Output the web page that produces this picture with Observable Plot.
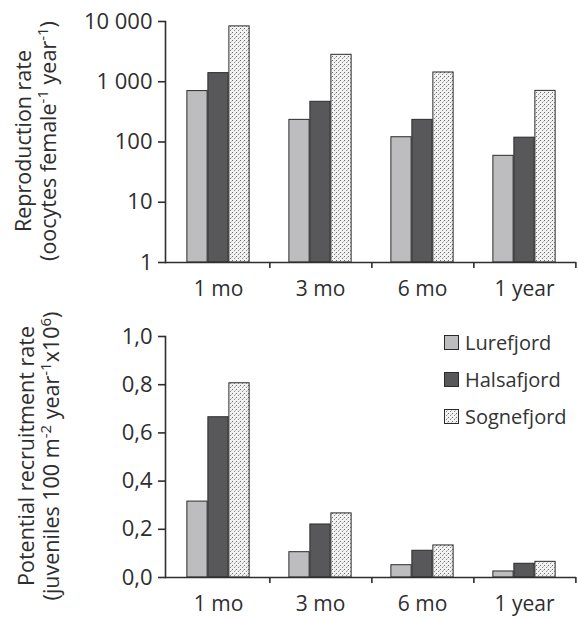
<!DOCTYPE html>
<html>
<head>
<meta charset="utf-8">
<script src="https://cdn.jsdelivr.net/npm/d3@7"></script>
<script src="https://cdn.jsdelivr.net/npm/@observablehq/plot@0.6"></script>
<style>
  body { margin: 0; background: #fff; font-family: "Open Sans", sans-serif; }
  #wrap { position: relative; width: 578px; height: 619px; }
  #wrap svg { display: block; }
  #legend { position: absolute; left: 444px; top: 324px; font-size: 20px; color: #333; }
  #legend .item { display: flex; align-items: center; height: 37px; }
  #legend svg { margin-right: 6px; }
</style>
</head>
<body>
<div id="wrap"></div>
<script>
// ---- data ----
const periods = ["1 mo", "3 mo", "6 mo", "1 year"];
const fjords = ["Lurefjord", "Halsafjord", "Sognefjord"];
const reproLurefjord  = [700, 233, 120, 59];
const reproHalsafjord = [1390, 465, 233, 118];
const reproSognefjord = [8300, 2800, 1425, 706];
const recruitLurefjord  = [0.315, 0.105, 0.051, 0.025];
const recruitHalsafjord = [0.665, 0.22, 0.111, 0.057];
const recruitSognefjord = [0.806, 0.266, 0.133, 0.065];
const reproTicks = [1, 10, 100, 1000, 10000];
const recruitTicks = [0, 0.2, 0.4, 0.6, 0.8, 1.0];

const fills = {Lurefjord: "#bdbdbf", Halsafjord: "#58585a", Sognefjord: "url(#dots)"};

function rows(series) {
  const out = [];
  fjords.forEach((f, j) => periods.forEach((p, i) => out.push({period: p, fjord: f, value: series[j][i]})));
  return out;
}
const reproRows = rows([reproLurefjord, reproHalsafjord, reproSognefjord]);
const recruitRows = rows([recruitLurefjord, recruitHalsafjord, recruitSognefjord]);

const W = 578, ML = 165, MR = 2;
const bw = (W - ML - MR) / periods.length;
const barW = 21;
const off = (bw - barW * fjords.length) / 2;
const ink = "#2e2e2e";

function addDefs(svg) {
  const defs = d3.select(svg).insert("defs", ":first-child");
  const pat = defs.append("pattern").attr("id", "dots").attr("patternUnits", "userSpaceOnUse")
    .attr("width", 4).attr("height", 4);
  pat.append("rect").attr("width", 4).attr("height", 4).attr("fill", "#f2f2f2");
  pat.append("rect").attr("x", 0).attr("y", 0).attr("width", 1).attr("height", 1).attr("fill", "#6a6a6a");
  pat.append("rect").attr("x", 2).attr("y", 2).attr("width", 1).attr("height", 1).attr("fill", "#8a8a8a");
  pat.append("rect").attr("x", 3).attr("y", 1).attr("width", 1).attr("height", 1).attr("fill", "#c4c4c4");
}

function addTitle(svg, cy, lines) {
  const g = d3.select(svg).append("g").attr("transform", "rotate(-90)")
    .attr("font-family", "Open Sans, sans-serif").attr("font-size", 21.5).attr("fill", ink);
  lines.forEach(({x, parts}) => {
    const t = g.append("text").attr("x", -cy).attr("y", x).attr("text-anchor", "middle");
    let sup = false;
    parts.forEach(p => {
      const s = typeof p === "string" ? {t: p, sup: false} : {t: p.sup, sup: true};
      const ts = t.append("tspan").text(s.t);
      if (s.sup && !sup) ts.attr("dy", -8).attr("font-size", 15);
      else if (s.sup) ts.attr("font-size", 15);
      else if (!s.sup && sup) ts.attr("dy", 8);
      sup = s.sup;
    });
  });
}

function bars(data, base) {
  return fjords.map((f, j) => Plot.barY(data.filter(d => d.fjord === f), {
    x: "period", y1: () => base, y2: "value",
    fill: fills[f], stroke: "#2b2b2b", strokeWidth: 1,
    insetLeft: off + j * barW, insetRight: bw - off - (j + 1) * barW
  }));
}

function chart({data, height, mt, mb, yopts, ticks, fmt, base}) {
  return Plot.plot({
    width: W, height, marginLeft: ML, marginRight: MR, marginTop: mt, marginBottom: mb,
    style: {fontFamily: "Open Sans, sans-serif", fontSize: "20px", color: ink, background: "transparent", overflow: "visible"},
    x: {domain: periods, padding: 0},
    y: {...yopts, label: null},
    marks: [
      ...bars(data, base),
      Plot.ruleY([base], {stroke: ink, strokeWidth: 1.6}),
      Plot.frame({anchor: "left", stroke: ink, strokeWidth: 1.6}),
      Plot.axisY({ticks, tickFormat: fmt, tickSize: 7, tickPadding: 6, label: null, strokeWidth: 1.6, fontSize: 22}),
      Plot.axisX({tickSize: 0, tickPadding: 19, label: null, fontSize: 21}),
      Plot.axisX({tickSize: 6, tickFormat: () => "", label: null, dx: bw / 2, strokeWidth: 1.6})
    ]
  });
}

const wrap = document.getElementById("wrap");

const topChart = chart({
  data: reproRows, height: 305, mt: 21, mb: 43, base: reproTicks[0],
  yopts: {type: "log", domain: [reproTicks[0], reproTicks[reproTicks.length - 1]]},
  ticks: reproTicks,
  fmt: d => d3.format(",")(d).replace(/,/g, " ")
});
addDefs(topChart);
addTitle(topChart, 141, [
  {x: 31, parts: ["Reproduction rate"]},
  {x: 56, parts: ["(oocytes female", {sup: "-1"}, " year", {sup: "-1"}, ")"]}
]);
wrap.appendChild(topChart);

const bottomChart = chart({
  data: recruitRows, height: 314, mt: 31, mb: 42, base: recruitTicks[0],
  yopts: {type: "linear", domain: [recruitTicks[0], recruitTicks[recruitTicks.length - 1]]},
  ticks: recruitTicks,
  fmt: d => d3.format(".1f")(d).replace(".", ",")
});
addTitle(bottomChart, 151, [
  {x: 34, parts: ["Potential recruitment rate"]},
  {x: 59, parts: ["(juveniles 100 m", {sup: "-2"}, " year", {sup: "-1"}, "x10", {sup: "6"}, ")"]}
]);
wrap.appendChild(bottomChart);

// legend
const legend = document.createElement("div");
legend.id = "legend";
fjords.forEach(f => {
  const item = document.createElement("div");
  item.className = "item";
  item.innerHTML = `<svg width="15" height="15"><rect x="0.5" y="0.5" width="14" height="14" fill="${fills[f]}" stroke="#2b2b2b" stroke-width="1"/></svg><span>${f}</span>`;
  legend.appendChild(item);
});
wrap.appendChild(legend);
</script>
</body>
</html>
